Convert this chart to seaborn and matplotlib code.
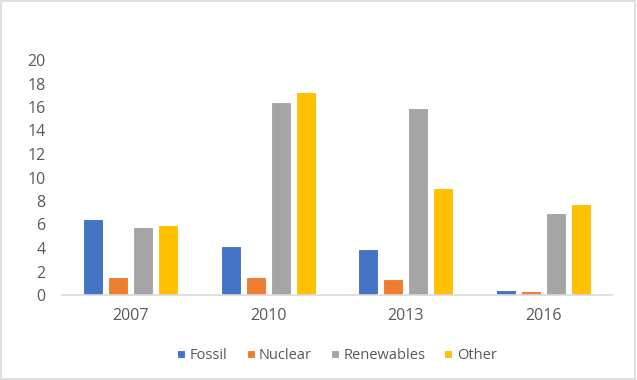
import pandas as pd
import matplotlib.pyplot as plt
import seaborn as sns
from matplotlib.patches import Rectangle

years = ["2007", "2010", "2013", "2016"]
fossil = [6.45, 4.15, 3.95, 0.45]
nuclear = [1.5, 1.55, 1.4, 0.3]
renewables = [5.8, 16.4, 15.9, 6.95]
other = [5.95, 17.3, 9.1, 7.75]

sources = ["Fossil", "Nuclear", "Renewables", "Other"]
colors = ["#4472C4", "#ED7D31", "#A5A5A5", "#FFC000"]

df = pd.concat([
    pd.DataFrame({"year": years, "value": vals, "source": name})
    for name, vals in zip(sources, [fossil, nuclear, renewables, other])
])

sns.set_theme(style="white")
plt.rcParams["font.family"] = ["Open Sans", "DejaVu Sans"]
text_col = "#595959"

fig = plt.figure(figsize=(6.37, 3.80), dpi=100)
ax = fig.add_axes([62 / 637, 1 - 295 / 380, 550 / 637, 235 / 380])

sns.barplot(
    data=df, x="year", y="value", hue="source",
    palette=colors, saturation=1, width=0.73, gap=0.2,
    edgecolor="white", linewidth=0.8, ax=ax
)

ax.set_ylim(0, 20)
ax.set_yticks(range(0, 21, 2))
ax.set_xlabel("")
ax.set_ylabel("")
for s in ["top", "right", "left"]:
    ax.spines[s].set_visible(False)
ax.spines["bottom"].set_color("#D9D9D9")
ax.spines["bottom"].set_linewidth(1.2)
ax.tick_params(axis="both", length=0, labelsize=11.5, colors=text_col)
ax.tick_params(axis="y", pad=12)
ax.tick_params(axis="x", pad=9)

ax.legend(
    loc="upper center", bbox_to_anchor=(0.5, -0.17), ncol=4,
    frameon=False, fontsize=10.5, labelcolor=text_col,
    handlelength=0.55, handleheight=0.55, handletextpad=0.3, columnspacing=1.3
)

fig.patches.append(Rectangle((0.002, 0.003), 0.995, 0.994, transform=fig.transFigure,
                             fill=False, edgecolor="#D9D9D9", linewidth=1.2))

fig.savefig("out.png", dpi=100)
